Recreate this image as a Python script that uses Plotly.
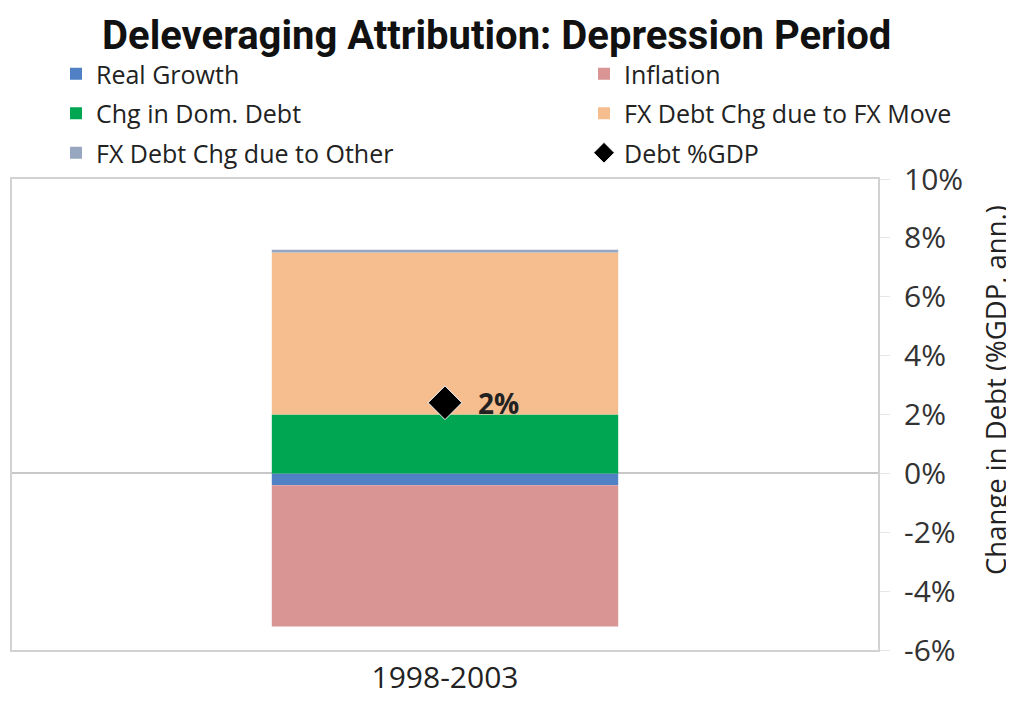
import plotly.graph_objects as go

# Data
PERIODS = ["1998-2003"]
REAL_GROWTH = [-0.4]
INFLATION = [-4.8]
CHG_DOM_DEBT = [2.0]
FX_MOVE = [5.5]
FX_OTHER = [0.1]
DEBT_GDP = [2.4]
DEBT_LABEL = ["2%"]
TICK_VALS = [-6, -4, -2, 0, 2, 4, 6, 8, 10]
TICK_TEXT = ["-6%", "-4%", "-2%", "0%", "2%", "4%", "6%", "8%", "10%"]

FONT = "Open Sans, Lato, DejaVu Sans, sans-serif"

fig = go.Figure()
# (name, values, colour, legend column)
bars = [
    ("Real Growth", REAL_GROWTH, "#4f81c4", "legend"),
    ("Inflation", INFLATION, "#d99594", "legend2"),
    ("Chg in Dom. Debt", CHG_DOM_DEBT, "#00a651", "legend"),
    ("FX Debt Chg due to FX Move", FX_MOVE, "#f6be8f", "legend2"),
    ("FX Debt Chg due to Other", FX_OTHER, "#97a7bf", "legend"),
]
for name, vals, colour, leg in bars:
    fig.add_trace(go.Bar(x=PERIODS, y=vals, name=name, legend=leg,
                         legendgroup=name,
                         marker=dict(color=colour, line=dict(width=0)),
                         width=0.4))
fig.add_trace(go.Scatter(x=PERIODS, y=DEBT_GDP, name="Debt %GDP",
                         legend="legend2", legendgroup="Debt %GDP",
                         mode="markers",
                         marker=dict(symbol="diamond", size=26,
                                     color="black",
                                     line=dict(color="white", width=1))))
for period, val, label in zip(PERIODS, DEBT_GDP, DEBT_LABEL):
    fig.add_annotation(x=period, y=val, text="<b>%s</b>" % label,
                       showarrow=False, xshift=53,
                       font=dict(size=28, color="#222222", family=FONT))

# page body adds an 8px offset, so the figure's plot area sits at
# x 4..870, y 171..642 in figure pixels
PLOT_L, PLOT_T, PLOT_W, PLOT_H = 4, 171, 866, 471

# y-axis title placed as a rotated annotation (sits a bit above centre)
fig.add_annotation(text="Change in Debt (%GDP, ann.)", textangle=-90,
                   xref="paper", yref="paper",
                   x=(987 - PLOT_L) / PLOT_W, y=1 - (382 - PLOT_T) / PLOT_H,
                   xanchor="center", yanchor="middle", showarrow=False,
                   font=dict(size=27.5, color="#222222", family=FONT))

legend_style = dict(orientation="v", xanchor="left", yanchor="top",
                    y=1 + (PLOT_T - 43) / PLOT_H, tracegroupgap=4,
                    font=dict(size=25, family=FONT, color="#222222"),
                    itemwidth=30, bgcolor="rgba(0,0,0,0)")

axis_line = "#d2d2d2"
fig.update_layout(
    barmode="relative",
    width=1014, height=702,
    margin=dict(l=PLOT_L, r=1014 - PLOT_L - PLOT_W, t=PLOT_T,
                b=702 - PLOT_T - PLOT_H),
    paper_bgcolor="white", plot_bgcolor="white",
    font=dict(family=FONT, size=22, color="#333333"),
    title=dict(text="<b>Deleveraging Attribution: Depression Period</b>",
               x=0.482, xanchor="center", y=0.962, yanchor="middle",
               font=dict(family="Liberation Sans Narrow, Roboto, sans-serif",
                         size=40, color="#111111")),
    legend=dict(x=(48 - PLOT_L) / PLOT_W, **legend_style),
    legend2=dict(x=(576 - PLOT_L) / PLOT_W, **legend_style),
    xaxis=dict(showline=True, linecolor=axis_line, linewidth=2,
               mirror=True, ticks="", showgrid=False, automargin=False,
               tickfont=dict(size=30, color="#222222")),
    yaxis=dict(side="right", range=[-6, 10], tickvals=TICK_VALS,
               ticktext=TICK_TEXT, showline=True, linecolor=axis_line,
               linewidth=2, mirror=True, ticks="outside", ticklen=10,
               tickcolor="#e6e6e6", showgrid=False, zeroline=True,
               zerolinecolor="#c8c8c8", zerolinewidth=2, automargin=False,
               ticklabelstandoff=8,
               tickfont=dict(size=30, color="#333333")),
)

fig.write_html("out.html")
